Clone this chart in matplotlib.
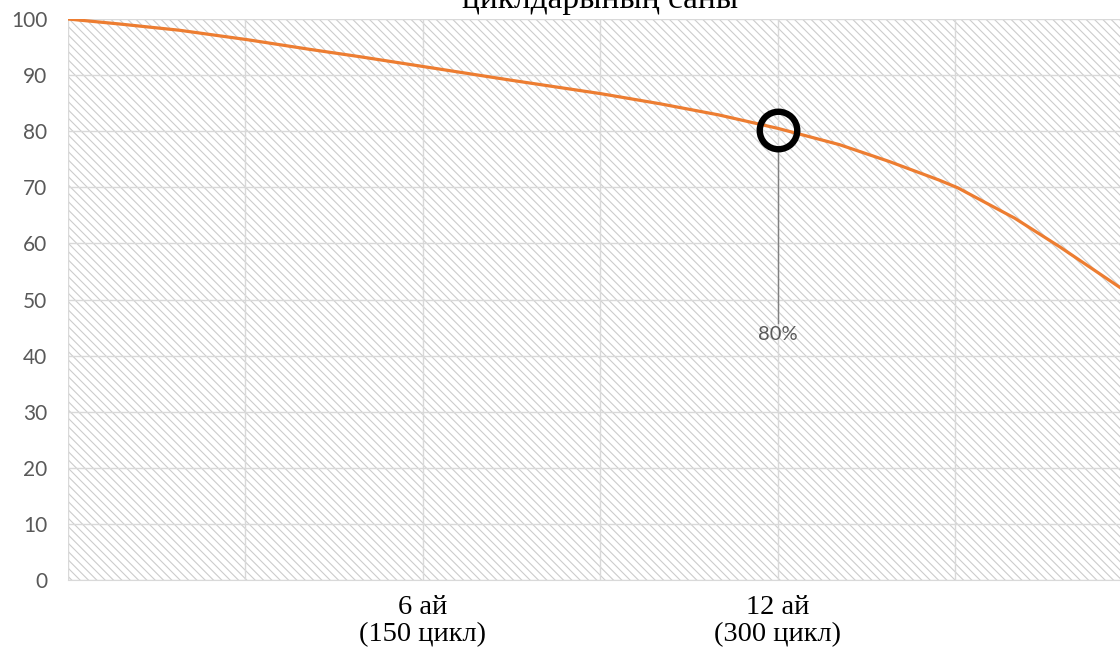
import matplotlib.pyplot as plt
from matplotlib.patches import Rectangle

# батарея сыйымдылығы (%) циклдар бойынша
cycles = [0, 22, 47, 76, 102, 123, 149, 187, 225, 250, 275, 300, 326, 347, 368, 376, 400, 419, 445]
capacity = [100, 99.1, 98.0, 96.3, 94.6, 93.3, 91.6, 89.1, 86.7, 84.9, 82.9, 80.5, 77.6, 74.6,
            71.3, 69.9, 64.5, 59.4, 52.0]

grid_x = [0, 75, 150, 225, 300, 375, 450]
tick_labels = ['', '', '6 ай\n(150 цикл)', '', '12 ай\n(300 цикл)', '', '']
y_ticks = [0, 10, 20, 30, 40, 50, 60, 70, 80, 90, 100]

mark_x = 300
mark_y = 80.3
mark_text = '80%'
label_y = 43.7
title = 'циклдарының саны'

plt.rcParams['hatch.linewidth'] = 0.8

fig = plt.figure(figsize=(11.2, 6.48), dpi=100)
ax = fig.add_axes([68/1120, 1 - 580/648, 1065/1120, (580 - 19)/648])

# штрихталған фон
ax.add_patch(Rectangle((0, 0), 1, 1, transform=ax.transAxes, facecolor='white',
                       edgecolor='#cccccc', hatch='\\\\\\\\', linewidth=0, zorder=0))

ax.plot(cycles, capacity, color='#ED7D31', linewidth=2.3, zorder=3)

# белгі
ax.plot([mark_x, mark_x], [mark_y - 3.6, label_y + 2.2], color='#808080', linewidth=1, zorder=2)
ax.plot([mark_x], [mark_y], marker='o', markersize=27, markerfacecolor='none',
        markeredgecolor='black', markeredgewidth=4.6, zorder=4)
ax.text(mark_x, label_y, mark_text, ha='center', va='center', fontsize=14.5,
        color='#595959', family='Lato', zorder=5)

ax.set_xlim(0, 450)
ax.set_ylim(0, 100)
ax.set_xticks(grid_x)
ax.set_xticklabels(tick_labels, family='Liberation Serif', fontsize=20.5, color='black', linespacing=1.08)
ax.set_yticks(y_ticks)
ax.set_yticklabels([str(v) for v in y_ticks], family='Lato', fontsize=15, color='#595959')
ax.tick_params(axis='x', length=0, pad=11)
ax.tick_params(axis='y', length=0, pad=15)
ax.grid(True, color='#d9d9d9', linewidth=1, zorder=1)
ax.set_axisbelow(True)
for s in ['top', 'right', 'left']:
    ax.spines[s].set_visible(False)
ax.spines['bottom'].set_color('#d9d9d9')

fig.text(600/1120, 1 - 8/648, title, ha='center', va='baseline',
         family='Liberation Serif', fontsize=24, color='black')

fig.savefig('out.png', dpi=100)
